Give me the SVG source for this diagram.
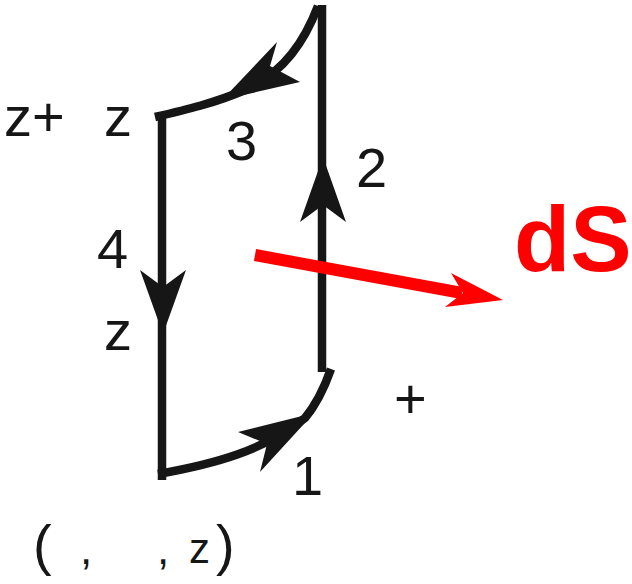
<svg xmlns="http://www.w3.org/2000/svg" width="632" height="584" viewBox="0 0 632 584">
  <style>
    .ln { fill: none; stroke: #161616; stroke-width: 8.5; stroke-linejoin: miter; }
    .ah { fill: #161616; stroke: none; }
    .lbl { font-family: "Liberation Sans", Arial, sans-serif; font-size: 56px; fill: #161616; }
    .red { fill: #ff0000; }
  </style>
  <rect width="632" height="584" fill="#ffffff"/>
  <g id="connectors">
    <!-- segment 4: left vertical -->
    <line class="ln" x1="162" y1="114" x2="162" y2="480"/>
    <polygon class="ah" points="163,334 140,270 163,287 186,270"/>
    <!-- segment 2: right vertical -->
    <line class="ln" x1="322" y1="5" x2="322" y2="372"/>
    <polygon class="ah" points="323,157 300,222 323,205 346,222"/>
    <!-- segment 1: bottom -->
    <path class="ln" d="M158,474 C215,464 265,450 305,418 Q320,400 331,369"/>
    <polygon class="ah" points="314,413 238,432 267,444 260,472"/>
    <!-- segment 3: top -->
    <path class="ln" d="M155,117 C185,110 215,103 245,90 C285,72 305,40 318,6"/>
    <polygon class="ah" points="222,100 277,42 270,66 300,82"/>
    <!-- dS normal -->
    <line x1="255" y1="255" x2="462" y2="293" stroke="#ff0000" stroke-width="12"/>
    <polygon class="red" points="503,300 451,273 463,293 445,307"/>
  </g>
  <g id="labels">
    <text class="lbl" x="4" y="136" font-size="54">z+</text>
    <text class="lbl" x="104" y="136" font-size="52">z</text>
    <text class="lbl" x="226" y="160">3</text>
    <text class="lbl" x="356" y="187">2</text>
    <text class="lbl" x="97" y="268">4</text>
    <text class="lbl" x="104" y="350">z</text>
    <text class="lbl" x="394" y="418">+</text>
    <text class="lbl" x="292" y="495">1</text>
    <text class="lbl" y="564"><tspan x="33">(</tspan><tspan x="80" font-size="44">,</tspan><tspan x="157" font-size="44">,</tspan><tspan x="189" y="563" font-size="42">z</tspan><tspan x="216" y="564">)</tspan></text>
    <text id="dS" x="514" y="271" font-family="Liberation Sans, Arial, sans-serif" font-weight="bold" font-size="92" fill="#ff0000">dS</text>
  </g>
</svg>
